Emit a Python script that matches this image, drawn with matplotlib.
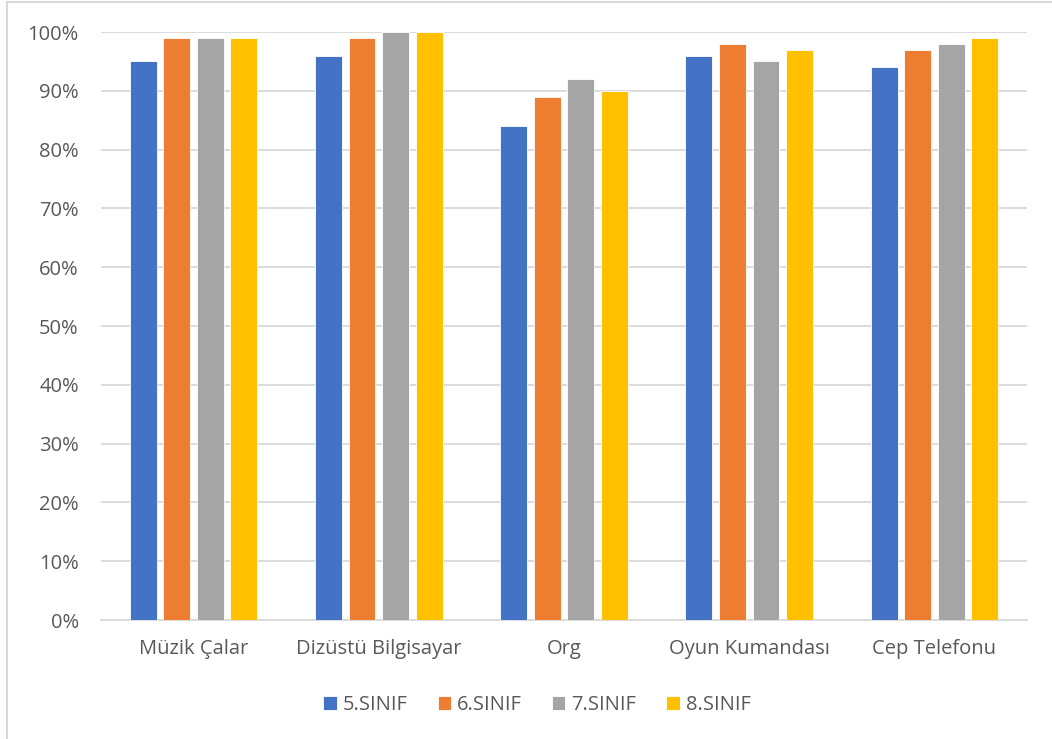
import numpy as np
import matplotlib.pyplot as plt
from matplotlib.lines import Line2D
from matplotlib.ticker import PercentFormatter

plt.rcParams['font.family'] = ['Open Sans', 'DejaVu Sans']

# Categories and the share per grade level
categories = ["Müzik Çalar", "Dizüstü Bilgisayar", "Org", "Oyun Kumandası", "Cep Telefonu"]
series_names = ["5.SINIF", "6.SINIF", "7.SINIF", "8.SINIF"]
grade5 = [95, 96, 84, 96, 94]
grade6 = [99, 99, 89, 98, 97]
grade7 = [99, 100, 92, 95, 98]
grade8 = [99, 100, 90, 97, 99]
colors = ["#4472C4", "#ED7D31", "#A5A5A5", "#FFC000"]

text_color = "#595959"
grid_color = "#D9D9D9"
fs = 14.5

fig = plt.figure(figsize=(10.52, 7.39), dpi=100)
W, H = 1052, 739
ax = fig.add_axes([101 / W, 1 - 620 / H, (1027 - 101) / W, (620 - 32) / H])

x = np.arange(len(categories))
step = 0.181
width = 0.145
for i, (name, vals, c) in enumerate(zip(series_names, [grade5, grade6, grade7, grade8], colors)):
    offset = (i - 1.5) * step
    ax.bar(x + offset, vals, width, color=c, label=name, edgecolor="white",
           linewidth=0.6, zorder=3)

ax.set_xlim(-0.5, len(categories) - 0.5)
ax.set_ylim(0, 100)
ax.set_yticks(np.arange(0, 101, 10))
ax.yaxis.set_major_formatter(PercentFormatter(decimals=0))
ax.set_xticks(x)
ax.set_xticklabels(categories)

ax.grid(axis="y", color=grid_color, linewidth=1.3, zorder=0)
for s in ["top", "right", "left"]:
    ax.spines[s].set_visible(False)
ax.spines["bottom"].set_color(grid_color)
ax.spines["bottom"].set_linewidth(1.3)
ax.tick_params(axis="both", length=0, labelsize=fs, colors=text_color)
ax.tick_params(axis="y", pad=16)
ax.tick_params(axis="x", pad=14)

ax.legend(loc="center", bbox_to_anchor=(537 / W, 1 - 705 / H),
          bbox_transform=fig.transFigure, ncol=4, frameon=False,
          fontsize=fs, labelcolor=text_color, handlelength=0.65,
          handleheight=0.65, handletextpad=0.3, columnspacing=1.5)

# Chart area border (left and top edges)
fig.add_artist(Line2D([7 / W, 7 / W], [0, 1 - 2 / H], color=grid_color, linewidth=1.5))
fig.add_artist(Line2D([7 / W, 1], [1 - 2 / H, 1 - 2 / H], color=grid_color, linewidth=1.5))

fig.savefig("out.png", dpi=100, facecolor="white")
